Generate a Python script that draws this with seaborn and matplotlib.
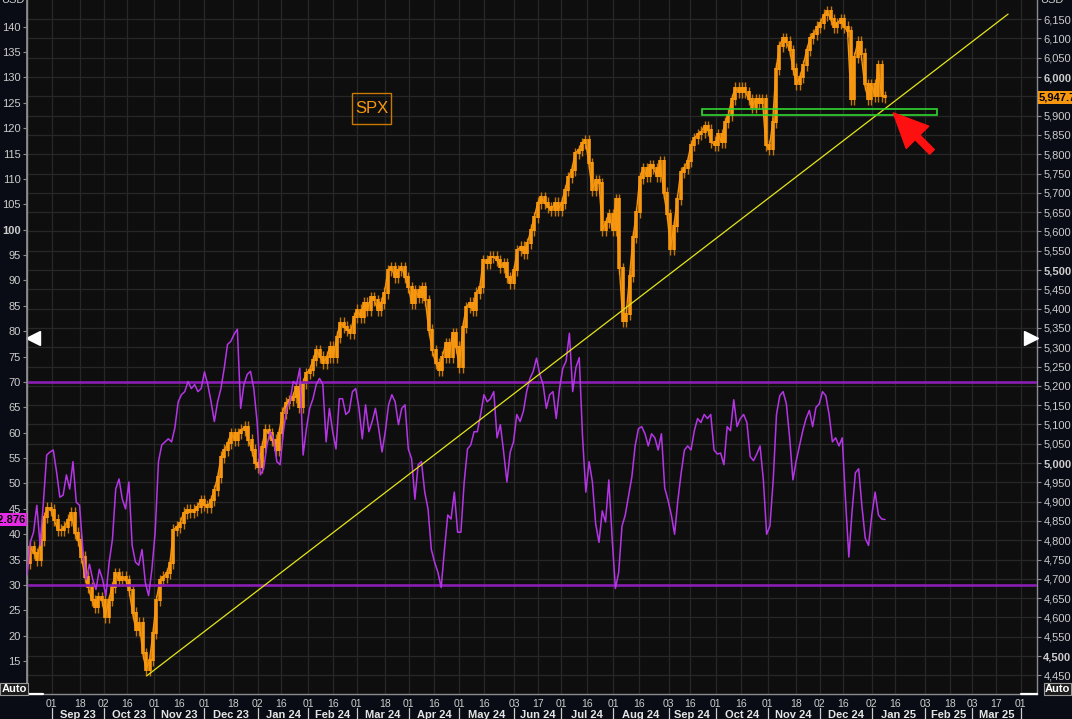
import pandas as pd
import matplotlib
matplotlib.use("Agg")
import matplotlib.pyplot as plt
import matplotlib.dates as mdates
import matplotlib.transforms as mtrans
from matplotlib.patches import Rectangle
import seaborn as sns

# === DATA ===
SERIES_START = "2023-08-17 06:00"
SERIES_END = "2025-01-10"

# SPX closes (right axis, USD)
spx_close = [
    4741, 4783, 4767, 4749, 4801, 4860, 4884, 4879, 4853, 4827,
    4827, 4835, 4853, 4871, 4819, 4801, 4757, 4705, 4679, 4645,
    4627, 4653, 4645, 4601, 4645, 4679, 4715, 4697, 4705, 4697,
    4671, 4612, 4568, 4586, 4508, 4464, 4490, 4560, 4645, 4697,
    4705, 4715, 4741, 4827, 4835, 4845, 4871, 4879, 4873, 4879,
    4886, 4904, 4891, 4886, 4904, 4930, 4964, 5016, 5034, 5052,
    5078, 5060, 5078, 5086, 5094, 5060, 5034, 5000, 4990, 5042,
    5086, 5078, 5060, 5034, 5078, 5130, 5156, 5163, 5171, 5197,
    5145, 5207, 5233, 5241, 5267,
    5293, 5275, 5259, 5275, 5301, 5275, 5327, 5363, 5353, 5345,
    5337, 5378, 5397, 5378, 5415, 5397, 5430, 5422, 5397, 5415,
    5441, 5500, 5508, 5482, 5500, 5508, 5482, 5456, 5415, 5448,
    5430, 5456, 5422, 5345, 5293, 5259, 5241, 5275, 5311, 5275,
    5337, 5301, 5249, 5353, 5404, 5415, 5397, 5441, 5456, 5526,
    5518, 5534, 5534, 5526, 5508, 5518, 5482, 5466, 5500, 5552,
    5560, 5544, 5570, 5604, 5637, 5674, 5689, 5674, 5663, 5656,
    5674, 5656, 5674, 5707, 5741, 5759, 5803, 5811, 5829, 5837,
    5777, 5707, 5733, 5725,
    5604, 5624, 5645, 5604, 5684, 5505, 5368, 5386, 5485, 5586,
    5650, 5740, 5764, 5744, 5772, 5764, 5744, 5782, 5700, 5645,
    5555, 5614, 5684, 5754, 5764, 5782, 5824, 5842, 5852, 5858,
    5873, 5863, 5832, 5824, 5852, 5832, 5883, 5902, 5943, 5972,
    5961, 5972, 5961, 5943, 5922, 5943, 5933, 5943, 5824, 5814,
    5883, 6021, 6080, 6101, 6091, 6070, 6021, 5982, 6000, 6031,
    6070, 6101, 6111, 6130, 6140, 6161, 6171, 6150, 6130, 6140,
    6150, 6130, 6119, 5943, 6052, 6091, 6060, 5982, 5943, 5982,
    5951, 6031, 5951, 5948,
]

# RSI (left axis)
rsi_vals = [
    31.9, 38.4, 40.4, 45.7, 37.8, 46.3, 55.6, 56.2, 56.6, 52.3,
    47.3, 47.7, 51.7, 48.9, 54.3, 46.3, 45.7, 37.0, 31.1, 34.1,
    31.1, 29.1, 33.1, 31.1, 27.9, 34.5, 39.0, 48.9, 50.9, 46.9,
    45.0, 50.3, 37.8, 34.5, 33.9, 37.0, 30.5, 27.9, 33.1, 40.4,
    54.3, 57.6, 58.2, 58.8, 58.2, 61.0, 66.1, 67.5, 68.1, 70.1,
    68.7, 69.5, 68.1, 68.7, 72.0, 69.5, 66.1, 62.2, 66.1, 68.7,
    72.7, 77.4, 78.0, 79.4, 80.4, 64.8, 69.5, 71.5, 72.1, 68.7,
    62.2, 51.7, 52.9, 57.6, 60.2, 58.8, 54.3, 53.7, 60.2, 64.8,
    66.1, 70.1, 69.5, 72.7, 55.6, 60.8, 64.8, 66.7, 69.5, 70.7,
    69.5, 58.2, 64.8, 60.2, 56.8, 66.7, 66.7, 63.6, 64.2, 68.1,
    68.7, 64.8, 58.8, 65.5, 60.2, 62.2, 64.8, 60.8, 56.2, 60.2,
    65.5, 67.5, 66.1, 61.6, 64.8, 65.5, 56.8, 54.9, 46.9, 53.7,
    54.3, 48.3, 45.0, 37.0, 34.5, 32.5, 29.5, 37.0, 43.8, 43.0,
    48.3, 40.4, 40.4, 50.3, 56.8, 57.6, 60.2, 60.2, 63.6, 67.5,
    66.1, 66.7, 68.1, 59.0, 61.6, 56.2, 50.3, 56.2, 58.2, 63.6,
    62.2, 64.2, 68.1, 70.7, 72.1, 74.7, 71.5, 69.5, 64.8, 67.5,
    68.1, 62.8, 68.7, 72.7, 74.1, 79.6, 68.1, 72.9, 74.8, 59.2,
    48.3, 54.3, 50.3, 42.0, 38.4, 44.6, 42.4, 50.7, 39.2, 29.3,
    32.5, 41.6, 43.8, 47.5, 51.3, 57.4, 60.8, 61.2, 59.8, 57.4,
    59.8, 59.0, 56.6, 59.8, 49.1, 46.7, 43.8, 40.0, 46.7, 52.1,
    56.6, 57.4, 56.6, 60.4, 62.8, 62.0, 63.6, 62.8, 63.6, 56.6,
    55.8, 56.0, 53.7, 61.2, 60.4, 66.5, 61.2, 62.8, 63.6, 62.0,
    55.3, 54.5, 55.8, 57.4, 50.7, 40.0, 41.6, 50.7, 63.6, 67.3,
    68.1, 65.7, 59.0, 50.7, 54.5, 57.4, 60.4, 62.8, 64.4, 61.2,
    65.0, 65.7, 68.1, 67.3, 63.6, 58.2, 59.0, 57.4, 59.0, 46.7,
    35.5, 44.6, 52.1, 52.9, 45.4, 39.2, 37.8, 43.8, 48.3, 43.8,
    43.0, 42.9,
]
rsi_levels = [70, 30]
RSI_LAST = 42.876
SPX_LAST = 5947.73

# trendline, support zone, arrow (SPX units)
trend_dates = ["2023-10-27 18:00", "2025-03-24 10:00"]
trend_vals = [4449, 6163]
zone_dates = ["2024-09-23", "2025-02-10"]
zone_vals = [5901, 5917]
arrow_tip = ("2025-01-15", 5907)
arrow_tail = ("2025-02-07", 5806)

tick_dates = [
    "2023-09-01", "2023-09-18", "2023-10-02", "2023-10-16", "2023-11-01", "2023-11-16",
    "2023-12-01", "2023-12-18", "2024-01-02", "2024-01-16", "2024-02-01", "2024-02-16",
    "2024-03-01", "2024-03-18", "2024-04-01", "2024-04-16", "2024-05-01", "2024-05-16",
    "2024-06-03", "2024-06-17", "2024-07-01", "2024-07-16", "2024-08-01", "2024-08-16",
    "2024-09-03", "2024-09-16", "2024-10-01", "2024-10-16", "2024-11-01", "2024-11-18",
    "2024-12-02", "2024-12-16", "2025-01-02", "2025-01-16", "2025-02-03", "2025-02-18",
    "2025-03-03", "2025-03-17", "2025-04-01",
]
spx_ticks = list(range(4450, 6151, 50))
rsi_ticks = list(range(15, 141, 5))

X_MIN, X_MAX = "2023-08-17 06:30", "2025-04-10 16:00"
SPX_LIM = (4401.6, 6199.5)
RSI_LIM = (8.52, 145.27)

# === STYLE ===
OUTER_BG = "#0a0c15"
PLOT_BG = "#0e0e0e"
GRID = "#272727"
AXIS = "#8c8c8c"
TXT = "#cdcdcd"
ORANGE = "#f7960f"
WICK = "#c47508"
PURPLE = "#b535e6"
PURPLE_LVL = "#8a1eb2"
YELLOW = "#e4e41a"
GREEN = "#2fd62f"
RED = "#ff1010"

sns.set_theme(style="dark", rc={"axes.facecolor": PLOT_BG, "figure.facecolor": OUTER_BG,
                                "grid.color": GRID, "axes.edgecolor": AXIS})
plt.rcParams["font.family"] = ["Liberation Sans", "DejaVu Sans"]

W, H = 1072, 719
fig = plt.figure(figsize=(W / 100, H / 100), dpi=100)
fig.patch.set_facecolor(OUTER_BG)
ax = fig.add_axes([27 / W, 25 / H, 1010 / W, 694 / H])
ax.set_facecolor(PLOT_BG)

# === SPX candles (body = previous close -> close) ===
spx = pd.DataFrame({"date": pd.date_range(SERIES_START, SERIES_END, periods=len(spx_close)),
                    "close": spx_close})
spx["prev"] = spx["close"].shift(1).fillna(spx["close"])
lo = spx[["close", "prev"]].min(axis=1)
hi = spx[["close", "prev"]].max(axis=1)
ax.vlines(spx["date"], lo - 16, hi + 14, color=WICK, lw=1.0, zorder=3)
ax.vlines(spx["date"], lo - 3, hi + 3, color=ORANGE, lw=2.6, zorder=4)
sns.lineplot(data=spx, x="date", y="close", ax=ax, color=ORANGE, lw=1.0, zorder=4)

ax.set_xlim(pd.Timestamp(X_MIN), pd.Timestamp(X_MAX))
ax.set_ylim(*SPX_LIM)
ax.set_xlabel("")
ax.set_ylabel("")

# === RSI on twin axis (left scale) ===
axr = ax.twinx()
for lvl in rsi_levels:
    axr.axhline(lvl, color=PURPLE_LVL, lw=1.9, zorder=2)
rsi = pd.DataFrame({"date": pd.date_range(SERIES_START, SERIES_END, periods=len(rsi_vals)),
                    "rsi": rsi_vals})
sns.lineplot(data=rsi, x="date", y="rsi", ax=axr, color=PURPLE, lw=1.1, zorder=3)

# trendline, zone box and arrow drawn in SPX units on top
tnum = mdates.date2num(pd.to_datetime(trend_dates))
axr.plot(tnum, trend_vals, color=YELLOW, lw=0.9, transform=ax.transData, zorder=5)
z0, z1 = mdates.date2num(pd.to_datetime(zone_dates))
axr.add_patch(Rectangle((z0, zone_vals[0]), z1 - z0, zone_vals[1] - zone_vals[0],
                        fill=False, ec=GREEN, lw=1.2, transform=ax.transData, zorder=6))
axr.annotate("", xy=(mdates.date2num(pd.Timestamp(arrow_tip[0])), arrow_tip[1]),
             xycoords=ax.transData,
             xytext=(mdates.date2num(pd.Timestamp(arrow_tail[0])), arrow_tail[1]),
             textcoords=ax.transData,
             arrowprops=dict(arrowstyle="simple,head_length=1.3,head_width=1.2,tail_width=0.25",
                             fc=RED, ec=RED, mutation_scale=19, shrinkA=0, shrinkB=0),
             zorder=7)

axr.set_ylim(*RSI_LIM)
axr.set_ylabel("")
axr.grid(False)

# === AXES / TICKS ===
ax.yaxis.tick_right()
axr.yaxis.tick_left()

# the last-price tag sits where the 5,950 label would be
ax.set_yticks(spx_ticks, labels=["" if abs(v - SPX_LAST) < 25 else f"{v:,}" for v in spx_ticks])
for v, t in zip(spx_ticks, ax.get_yticklabels()):
    if v % 500 == 0:
        t.set_fontweight("bold")
axr.set_yticks(rsi_ticks, labels=[str(v) for v in rsi_ticks])
for v, t in zip(rsi_ticks, axr.get_yticklabels()):
    if v == 100:
        t.set_fontweight("bold")

tdates = pd.to_datetime(tick_dates)
ax.set_xticks(tdates, labels=[d.strftime("%d") for d in tdates])

for a in (ax, axr):
    a.tick_params(axis="y", length=3, width=0.8, color=AXIS, labelsize=8,
                  labelcolor=TXT, pad=1.5)
ax.tick_params(axis="x", length=2.5, width=0.8, color=AXIS, labelsize=7.5,
               labelcolor=TXT, pad=0.8)

ax.grid(True, color=GRID, lw=0.9)
for s in ("left", "right", "bottom"):
    ax.spines[s].set_color(AXIS)
    ax.spines[s].set_linewidth(1.0)
ax.spines["top"].set_visible(False)
for s in ("top", "right", "bottom"):
    axr.spines[s].set_visible(False)
axr.spines["left"].set_color(AXIS)

# month row under the day labels
blend = mtrans.blended_transform_factory(ax.transData, ax.transAxes)
month_starts = []
for d in tdates:
    if not month_starts or (d.month, d.year) != (month_starts[-1].month, month_starts[-1].year):
        month_starts.append(d)
for i, d in enumerate(month_starts):
    ax.plot([d, d], [-0.020, -0.037], color=TXT, lw=0.9, transform=blend, clip_on=False)
    if i + 1 < len(month_starts):
        mid = d + (month_starts[i + 1] - d) / 2
        ax.text(mid, -0.0305, d.strftime("%b %y"), transform=blend, ha="center",
                va="center", fontsize=8, fontweight="bold", color="#e4e4e4")

# SPX legend box
ax.add_patch(Rectangle((0.3218, 0.8213), 0.0386, 0.0447, transform=ax.transAxes,
                       fill=False, ec="#c97800", lw=1.0, zorder=8))
ax.text(0.3411, 0.8437, "SPX", transform=ax.transAxes, ha="center", va="center",
        fontsize=12, color=ORANGE, zorder=8)

# last value tags
ax.text(1.002, SPX_LAST, f"{SPX_LAST:,.2f}", transform=mtrans.blended_transform_factory(
        ax.transAxes, ax.transData), ha="left", va="center", fontsize=8,
        fontweight="bold", color="black", clip_on=False, zorder=10,
        bbox=dict(boxstyle="square,pad=0.12", fc=ORANGE, ec="none"))
axr.text(-0.001, RSI_LAST, f"{RSI_LAST:.3f}", transform=mtrans.blended_transform_factory(
         axr.transAxes, axr.transData), ha="right", va="center", fontsize=8,
         fontweight="bold", color="black", clip_on=False, zorder=10,
         bbox=dict(boxstyle="square,pad=0.12", fc="#e62be6", ec="none"))

# terminal furniture: arrows, Auto boxes, USD headers
ax.plot([0.006], [0.513], marker="<", ms=10, color="white", transform=ax.transAxes,
        clip_on=False, zorder=9)
ax.plot([0.9945], [0.513], marker=">", ms=10, color="white", transform=ax.transAxes,
        clip_on=False, zorder=9)
ax.plot([0.0, 0.016], [0.0, 0.0], color="white", lw=1.6, transform=ax.transAxes,
        clip_on=False, zorder=9)
ax.plot([0.984, 1.0], [0.0, 0.0], color="white", lw=1.6, transform=ax.transAxes,
        clip_on=False, zorder=9)
for xf in (1.5 / W, 1045 / W):
    fig.text(xf, 1 - 689 / H, "Auto", ha="left", va="center", fontsize=8,
             fontweight="bold", color="white",
             bbox=dict(boxstyle="square,pad=0.1", fc="#1b1b1b", ec="#9a9a9a", lw=0.8))
fig.text(13 / W, 1.0, "USD", ha="center", va="center", fontsize=8, color=TXT)
fig.text(1052 / W, 1.0, "USD", ha="center", va="center", fontsize=8, color=TXT)

fig.savefig("out.png", dpi=100, facecolor=fig.get_facecolor())
